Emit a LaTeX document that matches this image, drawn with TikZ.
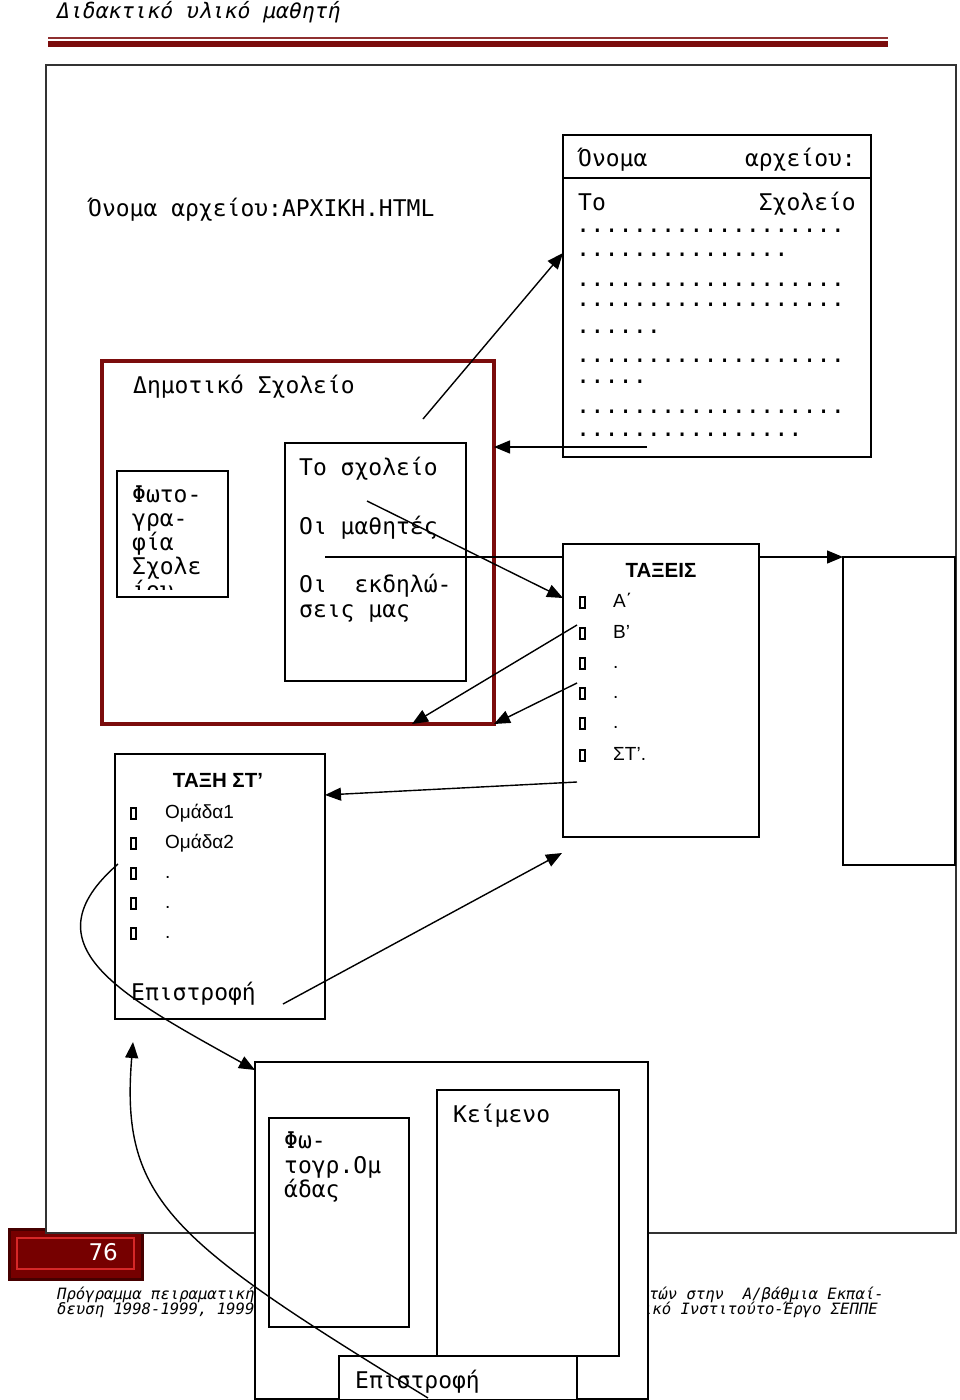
\documentclass[tikz,border=0pt]{standalone}
\usepackage{fontspec}
\usepackage{tikz}
\usetikzlibrary{arrows.meta}
\newfontfamily\mono{DejaVu Sans Mono}
\newfontfamily\arial{Liberation Sans}
\newfontfamily\digits{DejaVu Sans}
\definecolor{schoolred}{RGB}{123,12,12}
\definecolor{pagered}{RGB}{118,0,0}
\definecolor{pagedark}{RGB}{70,0,0}
\definecolor{rimred}{RGB}{214,40,40}
\newcommand\tickbox{{\setlength\fboxsep{0pt}\setlength\fboxrule{1.8pt}\fbox{\rule{0pt}{9pt}\hspace{3pt}}}}

\begin{document}
\begin{tikzpicture}[x=1pt, y=-1pt,
    box/.style={draw, line width=1.5pt, fill=white, inner sep=0pt, outer sep=0pt, anchor=north west},
    txt/.style={anchor=base west, inner sep=0pt, font=\mono\fontsize{23}{24}\selectfont},
    dots/.style={anchor=base west, inner sep=0pt, text height=4pt, text depth=0pt, font=\mono\fontsize{23.5}{24}\selectfont},
    item/.style={anchor=base west, inner sep=0pt, font=\arial\fontsize{19}{20}\selectfont},
    head/.style={anchor=base, inner sep=0pt, font=\arial\bfseries\fontsize{20.5}{22}\selectfont},
    note/.style={anchor=base west, inner sep=0pt, font=\mono\itshape\fontsize{15.6}{16}\selectfont},
    arr/.style={-{Triangle[length=16pt,width=13pt]}, line width=1.4pt}]
        \useasboundingbox (0,0) rectangle (960,1400);

        % Header
        \node[anchor=base west, inner sep=0pt, font=\mono\itshape\fontsize{21.4}{22}\selectfont] (title) at (57,18) {Διδακτικό υλικό μαθητή};
        \draw[schoolred!85, line width=2pt] (48,38) -- (888,38);
        \draw[schoolred, line width=6pt] (48,44) -- (888,44);

        % Page number
        \node[draw=pagedark, line width=3pt, fill=pagered, inner sep=0pt, anchor=north west, minimum width=133pt, minimum height=50pt] (pg) at (8,1228) {};
        \node[draw=rimred, line width=2pt, inner sep=0pt, anchor=north west, minimum width=117pt, minimum height=31pt] (pgrim) at (16,1237) {};
        \node[anchor=base east, inner sep=0pt, text=white, font=\digits\fontsize{23}{24}\selectfont] (pgnum) at (118,1260) {76};

        % Footer
        \node[note] (f1) at (57,1299) {Πρόγραμμα πειραματική};
        \node[note] (f2) at (57,1314) {δευση 1998-1999, 1999};
        \node[note, anchor=base east] (f3) at (884,1299) {τών στην\ \ Α/βάθμια Εκπαί-};
        \node[note, anchor=base east] (f4) at (878,1314) {ικό Ινστιτούτο-Έργο ΣΕΠΠΕ};

        % Frame
        \node[box, draw=black!80, line width=1.8pt, minimum width=910pt, minimum height=1168pt] (frame) at (46,65) {};
        \node[txt] (fname) at (88,216) {Όνομα αρχείου:ΑΡΧΙΚΗ.HTML};

        % Home page
        \node[box, draw=schoolred, line width=4pt, minimum width=392pt, minimum height=363pt] (school) at (102,361) {};
        \node[txt] (stitle) at (133,393) {Δημοτικό Σχολείο};
        \node[box, minimum width=111pt, minimum height=126pt] (photo) at (117,471) {};
        \begin{scope}
            \clip (117,471) rectangle (228,589);
            \foreach \w [count=\i] in {Φωτο-,γρα-,φία,Σχολε,ίου}
                \node[txt] (ph\i) at (132,478+24*\i) {\w};
        \end{scope}
        \node[box, minimum width=181pt, minimum height=238pt] (menu) at (285,443) {};
        \node[txt] (m1) at (299,475) {Το σχολείο};
        \node[txt] (m2) at (299,534) {Οι μαθητές};
        \node[txt] (m3) at (299,592) {Οι\ \ εκδηλώ-};
        \node[txt] (m4) at (299,617) {σεις μας};

        % School page
        \node[box, minimum width=308pt, minimum height=322pt] (file) at (563,135) {};
        \draw[line width=1.5pt] (file.west |- 0,178) -- (file.east |- 0,178);
        \node[txt] (fl1) at (578,166) {Όνομα};
        \node[txt, anchor=base east] (fr1) at (856,166) {αρχείου:};
        \node[txt] (fl2) at (578,210) {Το};
        \node[txt, anchor=base east] (fr2) at (856,210) {Σχολείο};
        \foreach \n/\yy [count=\i] in {19/232, 15/256, 19/286, 19/306, 6/333, 19/362, 5/383, 19/413, 16/436}
            \node[dots] (dr\i) at (576,\yy) {\foreach \k in {1,...,\n}{.}};

        % Events page
        \node[box, minimum width=112pt, minimum height=308pt] (rbox) at (843,557) {};
        \coordinate (evs) at (325,557);
        \draw[arr] (evs) -- (rbox.north west);

        % Classes
        \node[box, minimum width=196pt, minimum height=293pt] (taxeis) at (563,544) {};
        \node[head] (th1) at (661,577) {ΤΑΞΕΙΣ};
        \foreach \w/\yy [count=\i] in {Α΄/607, Β’/638, ./668, ./698, ./728, ΣΤ’./760}
            \node[item] (tx\i) at (579,\yy) {\makebox[34pt][l]{\tickbox}\w};

        % Class ST
        \node[box, minimum width=210pt, minimum height=265pt] (taxh) at (115,754) {};
        \node[head] (th2) at (218,787) {ΤΑΞΗ ΣΤ’};
        \foreach \w/\yy [count=\i] in {Ομάδα1/818, Ομάδα2/848, ./878, ./908, ./938}
            \node[item] (gr\i) at (130,\yy) {\makebox[35pt][l]{\tickbox}\w};
        \node[txt] (back1) at (131,1000) {Επιστροφή};

        % Group page
        \node[box, minimum width=393pt, minimum height=337pt] (bot) at (255,1062) {};
        \node[box, minimum width=140pt, minimum height=209pt] (bphoto) at (269,1118) {};
        \node[txt] (bp1) at (284,1148) {Φω-};
        \node[txt] (bp2) at (284,1173) {τογρ.Ομ};
        \node[txt] (bp3) at (284,1197) {άδας};
        \node[box, minimum width=182pt, minimum height=266pt] (btext) at (437,1090) {};
        \node[txt] (bt) at (453,1122) {Κείμενο};
        \node[box, minimum width=238pt, minimum height=44pt] (bret) at (339,1356) {};
        \node[txt] (back2) at (355,1388) {Επιστροφή};

        % Edges
        \coordinate (s1) at (423,419);
        \coordinate (s2) at (647,447);
        \coordinate (s3) at (367,501);
        \coordinate (s5) at (577,625);
        \coordinate (s6) at (577,683);
        \coordinate (s7) at (577,782);
        \coordinate (s8) at (283,1004);
        \coordinate (e8) at (562,853);
        \coordinate (s9) at (118,864);
        \coordinate (s10) at (428,1398);
        \coordinate (e10) at (133,1042);
        \draw[arr] (s1) -- (file.west |- 0,253);
        \draw[arr] (s2) -- (school.east |- s2);
        \draw[arr] (s3) -- (taxeis.west |- 0,598);
        \draw[arr] (s5) -- (school.south -| 412,0);
        \draw[arr] (s6) -- (school.south east);
        \draw[arr] (s7) -- (taxh.east |- 0,795);
        \draw[arr] (s8) -- (e8);
        \draw[arr] (s9) .. controls (25,945) and (120,995) .. (bot.west |- 0,1070);
        \draw[arr] (s10) .. controls (170,1240) and (120,1200) .. (e10);
    \end{tikzpicture}
\end{document}
